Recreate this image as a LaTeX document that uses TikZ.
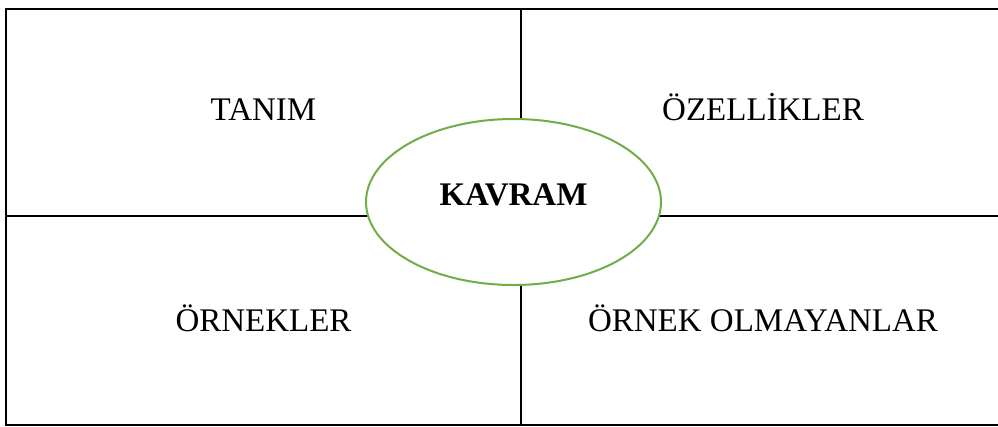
\documentclass[tikz,border=0pt]{standalone}
\usepackage{fontspec}
\usetikzlibrary{shapes.geometric}
\setmainfont{Liberation Serif}
\definecolor{kgreen}{HTML}{70AD47}
\begin{document}
\begin{tikzpicture}[x=1pt,y=-1pt,
  grid/.style={line width=2pt,black},
  label/.style={anchor=base,inner sep=0pt,font=\fontsize{33}{40}\selectfont},
  concept/.style={ellipse,draw=kgreen,line width=2pt,fill=white,
    minimum width=295pt,minimum height=166pt,inner sep=0pt}]
\useasboundingbox (0,0) rectangle (998,426);
\clip (0,0) rectangle (998,426);
% frame and quadrant dividers
\draw[grid] (6,9) rectangle (1005,425);
\draw[grid] (521,9) -- (521,425);
\draw[grid] (6,216) -- (1005,216);
% quadrant labels
\node[label] (tanim) at (263.5,120) {TANIM};
\node[label] (ozellik) at (763,120) {ÖZELLİKLER};
\node[label] (ornek) at (263.5,331) {ÖRNEKLER};
\node[label] (olmayan) at (763,331) {ÖRNEK OLMAYANLAR};
% central concept
\node[concept] (kavram) at (513.5,202) {};
\node[label,font=\fontsize{33}{40}\selectfont\bfseries] (kavramtext) at (513.5,205) {KAVRAM};
\end{tikzpicture}
\end{document}
